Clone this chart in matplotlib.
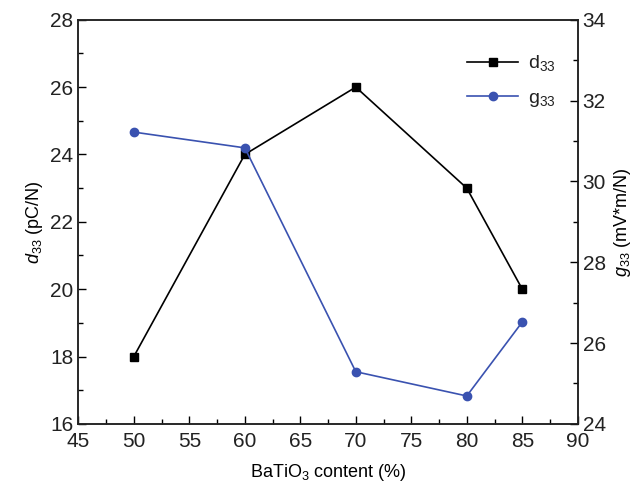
import numpy as np
import matplotlib.pyplot as plt
from matplotlib.ticker import MultipleLocator

plt.rcParams['font.family'] = ['Liberation Sans', 'DejaVu Sans']
plt.rcParams['mathtext.fontset'] = 'custom'
plt.rcParams['mathtext.rm'] = 'Liberation Sans'
plt.rcParams['mathtext.it'] = 'Liberation Sans:italic'
plt.rcParams['text.color'] = '#222222'

content = [50, 60, 70, 80, 85]
d33 = [18, 24, 26, 23, 20]
g33 = [31.22, 30.83, 25.29, 24.69, 26.52]

fig, ax = plt.subplots(figsize=(6.37, 4.94), dpi=100)
fig.subplots_adjust(left=0.123, right=0.907, top=0.96, bottom=0.142)
ax2 = ax.twinx()

l1, = ax.plot(content, d33, color='black', marker='s', markersize=6, lw=1.2, label='d$_{33}$')
l2, = ax2.plot(content, g33, color='#3a52b0', marker='o', markersize=6, lw=1.2, label='g$_{33}$')

ax.set_xlim(45, 90)
ax.set_ylim(16, 28)
ax2.set_ylim(24, 34)
ax.xaxis.set_major_locator(MultipleLocator(5))
ax.xaxis.set_minor_locator(MultipleLocator(2.5))
ax.yaxis.set_major_locator(MultipleLocator(2))
ax.yaxis.set_minor_locator(MultipleLocator(1))
ax2.yaxis.set_major_locator(MultipleLocator(2))
ax2.yaxis.set_minor_locator(MultipleLocator(1))

for a in (ax, ax2):
    a.tick_params(which='major', direction='in', length=6, width=1, labelsize=15,
                  labelcolor='#222222')
    a.tick_params(which='minor', direction='in', length=3.5, width=1)
    for s in a.spines.values():
        s.set_linewidth(1.1)
        s.set_color('#222222')
ax.tick_params(axis='x', pad=6)

ax.set_xlabel('BaTiO$_3$ content (%)', fontsize=13, labelpad=8)
ax.set_ylabel('$d_{33}$ (pC/N)', fontsize=13)
ax2.set_ylabel('$g_{33}$ (mV*m/N)', fontsize=13)

ax.legend(handles=[l1, l2], loc='upper right', bbox_to_anchor=(0.99, 0.96), frameon=False,
          fontsize=14, handlelength=2.6, labelspacing=0.8, handletextpad=0.5)

fig.savefig('out.png', dpi=100)
